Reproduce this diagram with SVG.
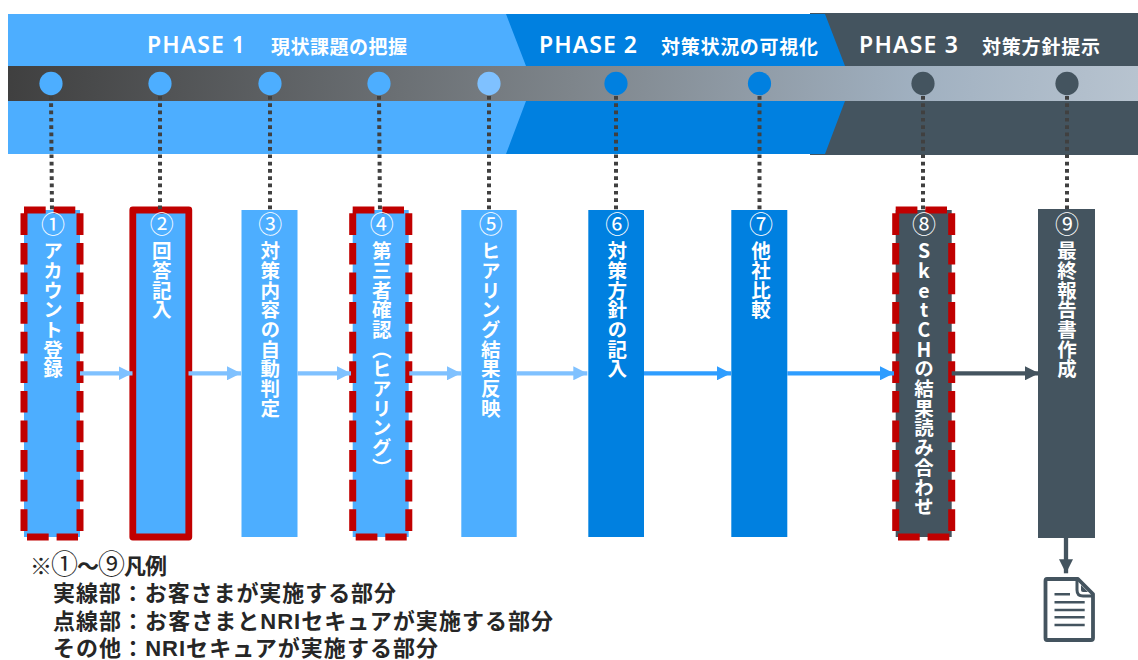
<svg xmlns="http://www.w3.org/2000/svg" width="1138" height="660" viewBox="0 0 1138 660">
<style>
text{font-family:"Noto Sans CJK JP","Noto Sans",sans-serif;fill:#fff}
.ph{font-size:23px;font-weight:600;font-family:"Noto Sans",sans-serif}
.pj{font-size:19px;font-weight:700}
.num{font-size:24px;text-anchor:middle}
.v{font-size:19.500px;font-weight:700;writing-mode:vertical-rl;text-orientation:upright;letter-spacing:.2px}
.lg{font-size:22px;font-weight:700;fill:#262626;font-family:"Liberation Sans","Noto Sans CJK JP",sans-serif}
.lc{font-size:27px;font-weight:400;font-family:"Noto Sans CJK JP",sans-serif}
.l{fill:#4DAEFF}.m{fill:#0080E0}.d{fill:#44545F}
.rd{fill:none;stroke:#C00000;stroke-width:7;stroke-dasharray:21.7 7.9}
.dot{stroke:#404040;stroke-width:4;stroke-dasharray:3.7 3.6;fill:none}
.a1,.a2,.a3{stroke-width:4.3;fill:none}
.a1{stroke:#7FC1FF}.a2{stroke:#2E9DFF}.a3{stroke:#44545F}
</style>
<defs>
<linearGradient id="g" gradientUnits="userSpaceOnUse" x1="8" y1="30" x2="1138" y2="140">
<stop offset="0" stop-color="#3F3F3F"/><stop offset="0.5" stop-color="#7E858B"/><stop offset="0.8" stop-color="#A0B0C0"/><stop offset="1" stop-color="#B8C4D0"/>
</linearGradient>
<marker id="h1" markerUnits="userSpaceOnUse" markerWidth="14" markerHeight="14" refX="14" refY="7" orient="auto"><path d="M0 0L14 7L0 14z" fill="#7FC1FF"/></marker>
<marker id="h2" markerUnits="userSpaceOnUse" markerWidth="14" markerHeight="14" refX="14" refY="7" orient="auto"><path d="M0 0L14 7L0 14z" fill="#2E9DFF"/></marker>
<marker id="h3" markerUnits="userSpaceOnUse" markerWidth="14" markerHeight="14" refX="14" refY="7" orient="auto"><path d="M0 0L14 7L0 14z" fill="#44545F"/></marker>
</defs>

<g id="band">
<rect class="d" x="810" y="13" width="328" height="142"/>
<rect class="l" x="8" y="14" width="520" height="140"/>
<path class="m" d="M506 14H825L845 66V101L825 154H506L526 101V66z"/>
<rect x="8" y="66" width="1130" height="35" fill="url(#g)"/>
<text class="ph" x="147" y="53" textLength="98">PHASE 1</text>
<text class="pj" x="271" y="54" textLength="136">現状課題の把握</text>
<text class="ph" x="539" y="53" textLength="98">PHASE 2</text>
<text class="pj" x="661" y="54" textLength="157">対策状況の可視化</text>
<text class="ph" x="859" y="53" textLength="99">PHASE 3</text>
<text class="pj" x="982" y="54" textLength="118">対策方針提示</text>
<ellipse class="l" cx="51" cy="83.500" rx="11.600" ry="11.800"/>
<ellipse class="l" cx="160" cy="83.500" rx="11.600" ry="11.800"/>
<ellipse class="l" cx="270" cy="83.500" rx="11.600" ry="11.800"/>
<ellipse class="l" cx="379" cy="83.500" rx="11.600" ry="11.800"/>
<ellipse cx="489" cy="83.500" rx="11.600" ry="11.800" fill="#7FC1FF"/>
<ellipse class="m" cx="616" cy="83.500" rx="11.600" ry="11.800"/>
<ellipse class="m" cx="759.500" cy="83.500" rx="11.600" ry="11.800"/>
<ellipse class="d" cx="923" cy="83.500" rx="11.600" ry="11.800"/>
<ellipse class="d" cx="1067" cy="83.500" rx="11.600" ry="11.800"/>
</g>

<g id="node1">
<rect class="l" x="24" y="210" width="56" height="327"/>
<path class="rd" d="M24 210H76M24 213.300V537M80 213.300V537M27 537H78"/>
<text class="num" x="53" y="233">①</text>
<text class="v" x="53" y="241">アカウント登録</text>
</g>
<g id="node2">
<rect class="l" x="132.800" y="210" width="56" height="327" stroke="#C00000" stroke-width="6.800" stroke-linejoin="round"/>
<text class="num" x="161.700" y="233">②</text>
<text class="v" x="161.700" y="241">回答記入</text>
</g>
<g id="node3">
<rect class="l" x="241.500" y="210" width="56" height="327"/>
<text class="num" x="270.300" y="233">③</text>
<text class="v" x="270.300" y="241">対策内容の自動判定</text>
</g>
<g id="node4">
<rect class="l" x="352.700" y="210" width="56" height="327"/>
<path class="rd" d="M352.700 210H404.400M352.700 213.300V537M408.800 213.300V537M355.700 537H406.700"/>
<text class="num" x="381.700" y="233">④</text>
<text class="v" x="381.700" y="241">第三者確認（ヒアリング）</text>
</g>
<g id="node5">
<rect class="l" x="461.300" y="210" width="55.400" height="327"/>
<text class="num" x="490.700" y="233">⑤</text>
<text class="v" x="490.700" y="241">ヒアリング結果反映</text>
</g>
<g id="node6">
<rect class="m" x="588.300" y="210" width="55.700" height="327"/>
<text class="num" x="617.300" y="233">⑥</text>
<text class="v" x="617.300" y="241">対策方針の記入</text>
</g>
<g id="node7">
<rect class="m" x="731.300" y="210" width="56" height="327"/>
<text class="num" x="761" y="233">⑦</text>
<text class="v" x="761" y="241">他社比較</text>
</g>
<g id="node8">
<rect class="d" x="895.700" y="210" width="56" height="327"/>
<path class="rd" d="M895.700 210H947.400M895.700 213.300V537M951.700 213.300V537M898 537H949.500"/>
<text class="num" x="924" y="233">⑧</text>
<text class="v" x="924" y="241">SketCHの結果読み合わせ</text>
</g>
<g id="node9">
<rect class="d" x="1038" y="209" width="57" height="329"/>
<text class="num" x="1067" y="233">⑨</text>
<text class="v" x="1067" y="241">最終報告書作成</text>
</g>
<g id="doc">
<path d="M1047 579H1078L1093 594V638Q1093 640 1091 640H1047Q1045.500 640 1045.500 638V581Q1045.500 579 1047 579z" fill="#fff" stroke="#44545F" stroke-width="3.800" stroke-linejoin="round"/>
<path d="M1077 580V590Q1077 596 1083 596H1093" fill="none" stroke="#44545F" stroke-width="3"/>
<path d="M1081 585L1088 592H1083Q1081 592 1081 590z" fill="#44545F"/>
<path d="M1054.500 594.300H1070M1054.500 602.300H1084.700M1054.500 610H1084.700M1054.500 617.300H1084.700M1054.500 625H1084.700" stroke="#44545F" stroke-width="2.500" fill="none"/>
</g>

<g id="connectors">
<path class="dot" d="M51 96L52 212"/>
<path class="dot" d="M160 96V212"/>
<path class="dot" d="M270 96V210"/>
<path class="dot" d="M379 96L380 212"/>
<path class="dot" d="M489 96V210"/>
<path class="dot" d="M616 96V210"/>
<path class="dot" d="M759.500 96V210"/>
<path class="dot" d="M923 96V212"/>
<path class="dot" d="M1067 96V209"/>
<path class="a1" marker-end="url(#h1)" d="M80 373.300H132.500"/>
<path class="a1" marker-end="url(#h1)" d="M188.500 373.300H241"/>
<path class="a1" marker-end="url(#h1)" d="M297.500 373.300H351"/>
<path class="a1" marker-end="url(#h1)" d="M409.300 373.300H461"/>
<path class="a1" marker-end="url(#h1)" d="M516.700 373.300H587.300"/>
<path class="a2" marker-end="url(#h2)" d="M644 373.300H731"/>
<path class="a2" marker-end="url(#h2)" d="M787.300 373.300H894"/>
<path class="a3" marker-end="url(#h3)" d="M951.700 373.300H1039"/>
<path class="a3" marker-end="url(#h3)" d="M1066 538V573.300"/>
</g>

<g id="legend">
<text class="lg" x="30" y="574" textLength="137">※<tspan class="lc">①</tspan>～<tspan class="lc">⑨</tspan>凡例</text>
<text class="lg" x="53" y="601" textLength="343">実線部：お客さまが実施する部分</text>
<text class="lg" x="53" y="629" textLength="500">点線部：お客さまとNRIセキュアが実施する部分</text>
<text class="lg" x="53" y="655.500" textLength="385">その他：NRIセキュアが実施する部分</text>
</g>
</svg>
